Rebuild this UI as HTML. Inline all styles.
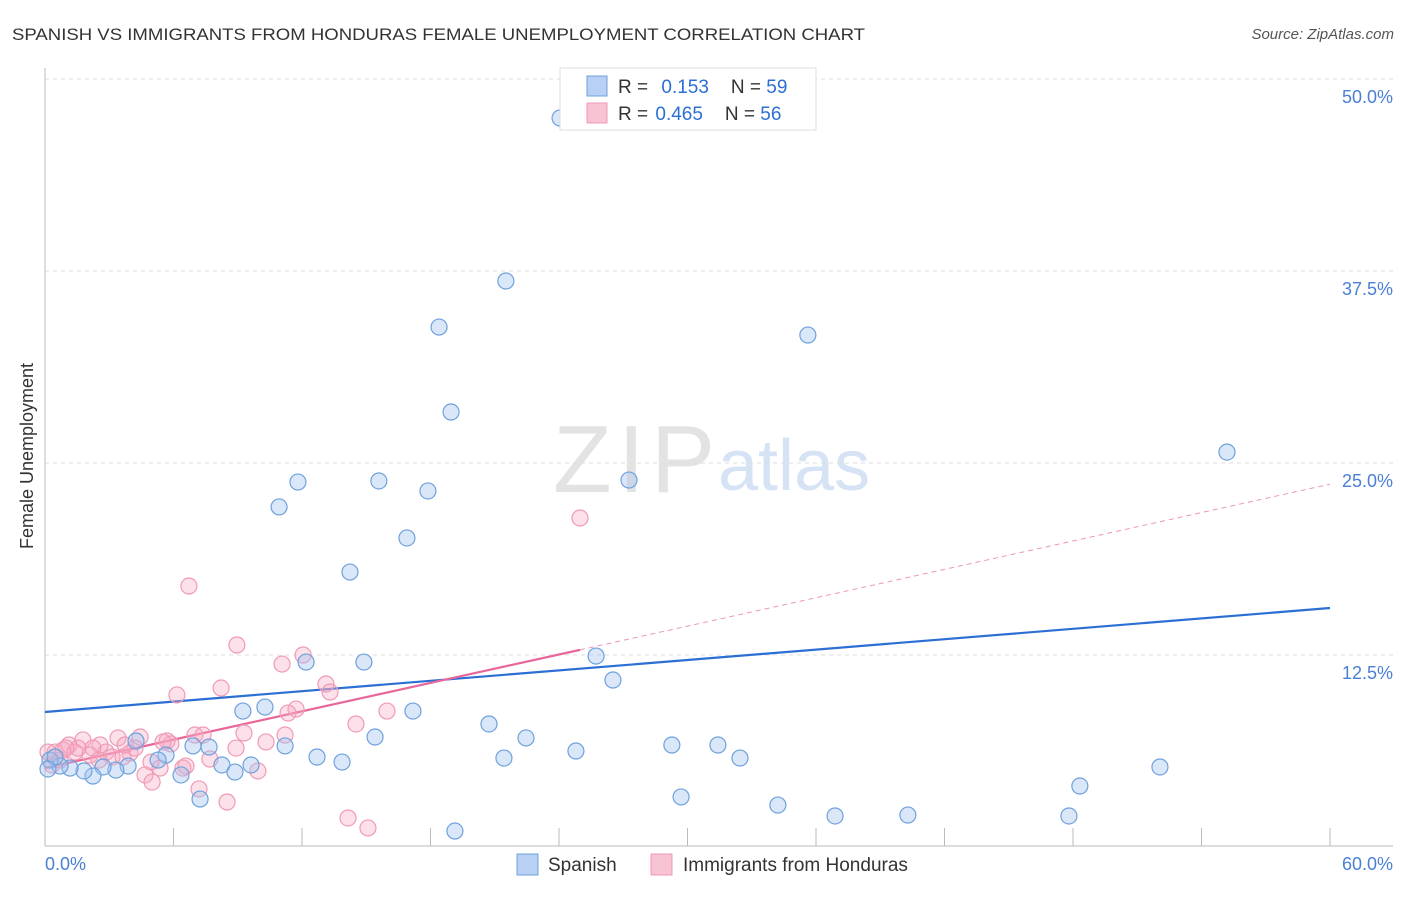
<!DOCTYPE html>
<html><head><meta charset="utf-8">
<style>
body{margin:0;background:#fff;font-family:"Liberation Sans",sans-serif;}
svg text{font-family:"Liberation Sans",sans-serif;}
</style></head>
<body>
<svg width="1406" height="892" viewBox="0 0 1406 892" xmlns="http://www.w3.org/2000/svg">
<text x="12" y="40" font-size="17" fill="#333" textLength="853" lengthAdjust="spacingAndGlyphs">SPANISH VS IMMIGRANTS FROM HONDURAS FEMALE UNEMPLOYMENT CORRELATION CHART</text>
<text x="1394" y="39" font-size="15" fill="#555" font-style="italic" text-anchor="end">Source: ZipAtlas.com</text>
<g>
<text x="553" y="492" font-size="96" fill="#e3e3e3" font-family="Liberation Serif" textLength="162">ZIP</text>
<text x="718" y="490" font-size="72" fill="#d6e3f5">atlas</text>
</g>
<g id="grid"></g>
<g id="axes"></g>
<g id="lines"></g>
<g id="pts"></g>
<text x="0" y="0" transform="translate(33,456) rotate(-90)" font-size="18" fill="#333" text-anchor="middle">Female Unemployment</text>
<text x="45" y="870" font-size="18" fill="#4a7fd4">0.0%</text>
<text x="1393" y="870" font-size="18" fill="#4a7fd4" text-anchor="end">60.0%</text>
<g>
<rect x="560" y="68" width="256" height="62" fill="#fff" stroke="#ddd"/>
<rect x="587" y="76" width="20" height="20" fill="#b7d0f3" stroke="#6fa1dc"/>
<rect x="587" y="103" width="20" height="20" fill="#f8c3d3" stroke="#f09ab5"/>
<text x="618" y="93" font-size="19" fill="#333">R = <tspan fill="#2b6fd4" dx="8">0.153</tspan><tspan dx="22" fill="#333">N = </tspan><tspan fill="#2b6fd4">59</tspan></text>
<text x="618" y="120" font-size="19" fill="#333">R = <tspan fill="#2b6fd4" dx="2">0.465</tspan><tspan dx="22" fill="#333">N = </tspan><tspan fill="#2b6fd4">56</tspan></text>
</g>
<g>
<rect x="517" y="854" width="21" height="21" fill="#b7d0f3" stroke="#6fa1dc"/>
<text x="548" y="871" font-size="19" fill="#333">Spanish</text>
<rect x="651" y="854" width="21" height="21" fill="#f8c3d3" stroke="#f09ab5"/>
<text x="683" y="871" font-size="19" fill="#333">Immigrants from Honduras</text>
</g>
</svg>
<script>
const yTicks=[12.5,25,37.5,50];
const yTickLabels=["12.5%","25.0%","37.5%","50.0%"];
const xTicks=[0,6,12,18,24,30,36,42,48,54,60];
const spanishX=[24.05,21.52,18.40,35.62,18.96,55.19,11.81,15.59,27.27,17.88,10.93,16.90,14.24,25.73,12.19,14.89,26.52,9.24,10.27,17.18,20.73,15.41,22.46,29.27,31.42,24.79,11.21,7.66,6.91,21.43,32.45,12.70,13.87,5.65,5.28,4.25,52.06,48.32,29.70,34.22,7.24,36.89,40.29,47.81,19.14,8.26,8.87,9.62,6.35,3.88,3.31,2.71,2.24,1.82,1.17,0.70,0.23,0.47,0.14];
const spanishY=[47.46,36.85,33.85,33.33,28.32,25.71,23.76,23.83,23.89,23.18,22.14,20.12,17.90,12.43,12.04,12.04,10.87,8.85,9.11,8.85,8.01,7.16,7.10,6.64,6.64,6.25,6.58,6.51,6.58,5.79,5.79,5.86,5.53,5.99,5.66,6.90,5.21,3.97,3.26,2.73,3.12,2.02,2.08,2.02,1.04,5.34,4.88,5.34,4.69,5.27,5.01,5.21,4.62,4.95,5.14,5.27,5.66,5.86,5.08];
const hondX=[24.98,6.72,8.96,12.05,11.07,13.12,13.31,8.22,6.16,15.97,11.72,11.35,14.52,7.00,7.38,9.29,11.21,5.70,5.88,4.44,3.41,2.57,1.77,1.12,0.47,8.92,10.32,7.70,3.97,4.95,5.37,6.44,4.67,5.00,9.94,7.19,8.50,14.15,15.08,0.84,1.40,2.10,2.85,3.13,3.64,0.14,0.33,4.20,5.51,6.58,2.24,1.54,0.70,3.74,0.98,2.52];
const hondY=[21.42,16.99,13.15,12.50,11.91,10.61,10.09,10.35,9.90,8.85,8.98,8.72,8.01,7.29,7.29,7.42,7.29,6.90,6.71,7.16,7.10,6.64,6.97,6.64,6.18,6.44,6.84,5.73,6.12,5.53,5.14,5.14,4.69,4.23,4.95,3.78,2.93,1.89,1.24,6.31,6.18,5.99,6.18,5.86,5.86,6.18,5.34,6.44,6.84,5.27,6.44,6.44,5.66,6.64,6.44,5.66];
const spanishTrend=[8.79,0.1128];
const hondTrend=[5.14,0.308];
const hondSolidMax=24.98;

const NS="http://www.w3.org/2000/svg";
const X=v=>45+v/60*1285;
const Y=v=>847-v/12.5*192;
function mk(tag,attrs,parent){const e=document.createElementNS(NS,tag);for(const k in attrs)e.setAttribute(k,attrs[k]);parent.appendChild(e);return e;}
const grid=document.getElementById('grid'),axes=document.getElementById('axes'),lines=document.getElementById('lines'),pts=document.getElementById('pts');
yTicks.forEach((t,i)=>{
  const l=mk('line',{x1:45,x2:1393,y1:Y(t),y2:Y(t),stroke:'#ddd','stroke-dasharray':'4,4'},grid);
  
  
  const tx=mk('text',{x:1393,y:Y(t)+24,'font-size':18,fill:'#4a7fd4','text-anchor':'end'},axes);
  tx.textContent=yTickLabels[i];
  
  
});
const xa=mk('line',{x1:45,x2:1393,y1:846,y2:846,stroke:'#bbb'},axes);


const ya=mk('line',{x1:45,x2:45,y1:68,y2:846,stroke:'#bbb'},axes);


xTicks.forEach(t=>{
  const l=mk('line',{x1:X(t),x2:X(t),y1:828,y2:846,stroke:'#bbb'},axes);
  
  
});
function drawPts(xs,ys,fill,stroke,name){
  xs.forEach((x,i)=>{
    const c=mk('circle',{cx:X(x),cy:Y(ys[i]),r:8,fill:fill,stroke:stroke,'stroke-width':1.2},pts);
    
    
  });
}
drawPts(hondX,hondY,'rgba(245,170,195,0.35)','#f09ab5','honduras-point');
drawPts(spanishX,spanishY,'rgba(160,196,240,0.4)','#6fa1dc','spanish-point');
const f=(tr,x)=>tr[0]+tr[1]*x;
const bl=mk('line',{x1:X(0),y1:Y(f(spanishTrend,0)),x2:X(60),y2:Y(f(spanishTrend,60)),stroke:'#2b6fd4','stroke-width':2.2},lines);


const pl=mk('line',{x1:X(0),y1:Y(f(hondTrend,0)),x2:X(hondSolidMax),y2:Y(f(hondTrend,hondSolidMax)),stroke:'#e8679a','stroke-width':2.2},lines);


const pd=mk('line',{x1:X(hondSolidMax),y1:Y(f(hondTrend,hondSolidMax)),x2:X(60),y2:Y(f(hondTrend,60)),stroke:'#e8679a','stroke-width':1,'stroke-dasharray':'5,4',opacity:0.7},lines);


</script>
</body></html>
